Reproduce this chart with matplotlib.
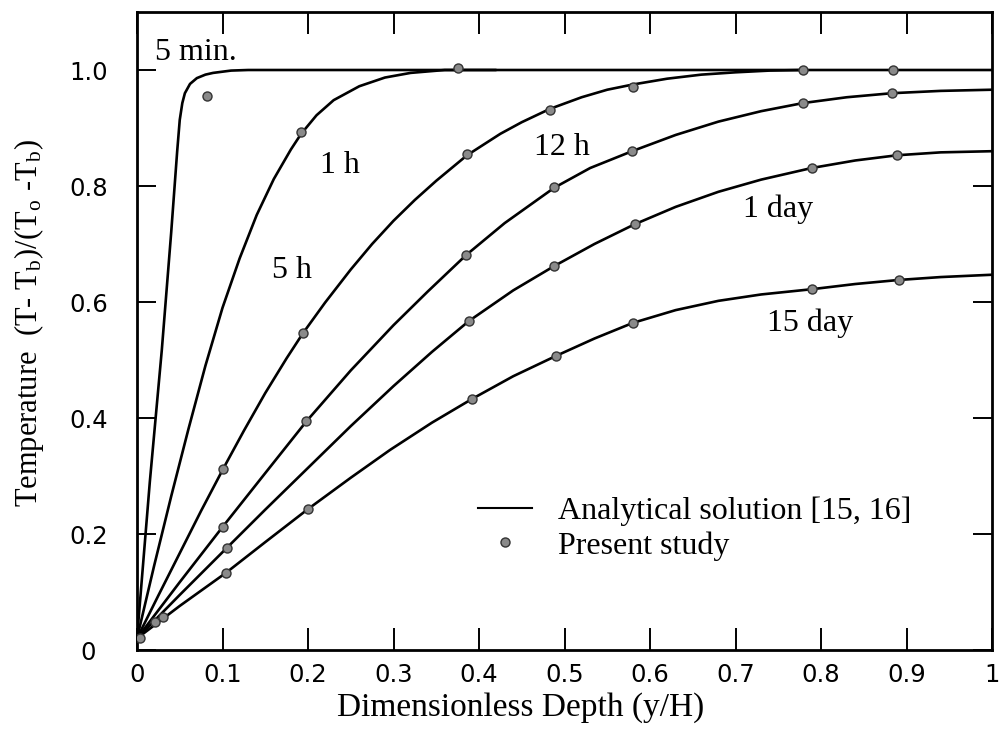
import matplotlib
matplotlib.use("Agg")
import matplotlib.pyplot as plt
from matplotlib.lines import Line2D

plt.rcParams['mathtext.fontset'] = 'stix'

# ---- analytical curves ----
x_5min = [0, 0.015, 0.029, 0.040, 0.047, 0.050, 0.053, 0.056, 0.062, 0.070, 0.080, 0.089, 0.11, 0.13, 1.0]
y_5min = [0.02, 0.29, 0.517, 0.72, 0.86, 0.914, 0.943, 0.96, 0.976, 0.986, 0.992, 0.995, 0.999, 1.0, 1.0]

x_1h = [0, 0.02, 0.04, 0.06, 0.08, 0.10, 0.12, 0.14, 0.16, 0.18, 0.192, 0.21, 0.23, 0.26, 0.29, 0.32, 0.36, 0.42]
y_1h = [0.02, 0.145, 0.265, 0.38, 0.49, 0.59, 0.675, 0.75, 0.812, 0.863, 0.89, 0.922, 0.948, 0.972, 0.987, 0.995, 1.0, 1.0]

x_5h = [0, 0.025, 0.05, 0.075, 0.101, 0.125, 0.15, 0.175, 0.194, 0.22, 0.25, 0.275, 0.30, 0.325, 0.35,
        0.386, 0.425, 0.45, 0.483, 0.52, 0.55, 0.58, 0.62, 0.66, 0.70, 0.74, 0.78]
y_5h = [0.02, 0.094, 0.167, 0.24, 0.313, 0.378, 0.443, 0.503, 0.546, 0.599, 0.656, 0.700, 0.740, 0.776, 0.809,
        0.853, 0.89, 0.91, 0.933, 0.953, 0.966, 0.975, 0.985, 0.992, 0.996, 0.999, 1.0]

x_12h = [0, 0.05, 0.10, 0.15, 0.198, 0.25, 0.30, 0.34, 0.385, 0.43, 0.488, 0.53, 0.579, 0.63, 0.68, 0.73,
         0.779, 0.83, 0.883, 0.94, 1.0]
y_12h = [0.02, 0.117, 0.212, 0.305, 0.394, 0.482, 0.56, 0.618, 0.681, 0.736, 0.797, 0.831, 0.86, 0.888, 0.911,
         0.929, 0.943, 0.953, 0.96, 0.964, 0.966]

x_1day = [0, 0.05, 0.105, 0.15, 0.20, 0.25, 0.30, 0.345, 0.388, 0.44, 0.488, 0.535, 0.582, 0.63, 0.68, 0.73,
          0.789, 0.84, 0.889, 0.94, 1.0]
y_1day = [0.02, 0.095, 0.176, 0.242, 0.314, 0.386, 0.455, 0.514, 0.567, 0.62, 0.662, 0.70, 0.734, 0.764, 0.79,
          0.811, 0.831, 0.844, 0.853, 0.858, 0.86]

x_15day = [0, 0.05, 0.104, 0.15, 0.20, 0.25, 0.296, 0.345, 0.392, 0.44, 0.49, 0.535, 0.58, 0.63, 0.68, 0.73,
           0.789, 0.84, 0.891, 0.94, 1.0]
y_15day = [0.02, 0.076, 0.133, 0.186, 0.243, 0.297, 0.345, 0.392, 0.433, 0.472, 0.507, 0.537, 0.564, 0.586,
           0.602, 0.613, 0.622, 0.631, 0.638, 0.643, 0.647]

# ---- present study points ----
px_5min = [0.082]
py_5min = [0.955]
px_1h = [0.192, 0.375]
py_1h = [0.893, 1.003]
px_5h = [0.004, 0.101, 0.194, 0.386, 0.483, 0.58, 0.779, 0.884]
py_5h = [0.02, 0.312, 0.546, 0.855, 0.931, 0.97, 1.0, 1.0]
px_12h = [0.021, 0.10, 0.198, 0.385, 0.488, 0.579, 0.779, 0.883]
py_12h = [0.048, 0.212, 0.394, 0.681, 0.798, 0.86, 0.943, 0.96]
px_1day = [0.03, 0.105, 0.388, 0.488, 0.582, 0.789, 0.889]
py_1day = [0.057, 0.176, 0.567, 0.662, 0.734, 0.831, 0.853]
px_15day = [0.104, 0.20, 0.392, 0.49, 0.58, 0.789, 0.891]
py_15day = [0.133, 0.243, 0.433, 0.507, 0.564, 0.622, 0.638]

curve_labels = ["5 min.", "1 h", "5 h", "12 h", "1 day", "15 day"]
label_x = [0.069, 0.237, 0.181, 0.497, 0.75, 0.787]
label_y = [1.031, 0.836, 0.655, 0.867, 0.76, 0.564]

xticks = [0, 0.1, 0.2, 0.3, 0.4, 0.5, 0.6, 0.7, 0.8, 0.9, 1.0]
xticklabels = ["0", "0.1", "0.2", "0.3", "0.4", "0.5", "0.6", "0.7", "0.8", "0.9", "1"]
yticks = [0, 0.2, 0.4, 0.6, 0.8, 1.0]
yticklabels = ["0", "0.2", "0.4", "0.6", "0.8", "1.0"]

fig = plt.figure(figsize=(9.99, 7.32), dpi=100)
ax = fig.add_axes([137/999, 1 - 650/732, 855/999, 638/732])

lw = 1.9
for xs, ys in [(x_5min, y_5min), (x_1h, y_1h), (x_5h, y_5h),
               (x_12h, y_12h), (x_1day, y_1day), (x_15day, y_15day)]:
    ax.plot(xs, ys, color='black', lw=lw, solid_joinstyle='round', solid_capstyle='round', zorder=2)

mk = dict(linestyle='none', marker='o', markersize=6.5, markerfacecolor='#8a8a8a',
          markeredgecolor='#333333', markeredgewidth=1.0, zorder=3)
for xs, ys in [(px_5min, py_5min), (px_1h, py_1h), (px_5h, py_5h),
               (px_12h, py_12h), (px_1day, py_1day), (px_15day, py_15day)]:
    ax.plot(xs, ys, **mk)

serif = 'Liberation Serif'
for t, lx, ly in zip(curve_labels, label_x, label_y):
    ax.text(lx, ly, t, fontsize=23, family=serif, ha='center', va='center')

ax.set_xlim(0, 1.0)
ax.set_ylim(0, 1.1)

ax.set_xticks(xticks)
ax.set_xticklabels(xticklabels, family='DejaVu Sans', fontsize=17.5)
ax.set_yticks(yticks)
ax.set_yticklabels(yticklabels, family='DejaVu Sans', fontsize=17.5, ha='center')

ax.tick_params(axis='x', direction='in', length=16, width=1.4, top=True, pad=9)
ax.tick_params(axis='y', direction='in', length=14, width=1.4, right=True, pad=35)
for s in ax.spines.values():
    s.set_linewidth(2.0)

ax.set_xlabel("Dimensionless Depth (y/H)", family=serif, fontsize=24)
ax.xaxis.set_label_coords(0.449, -0.066)
ax.set_ylabel(r"Temperature  (T- T$_\mathregular{b}$)/(T$_\mathregular{o}$ -T$_\mathregular{b}$)",
              family=serif, fontsize=22)
ax.yaxis.set_label_coords(-0.106, 0.513)

handles = [Line2D([], [], color='black', lw=1.5),
           Line2D([], [], **{k: v for k, v in mk.items() if k != 'zorder'})]
ax.legend(handles, ["Analytical solution [15, 16]", "Present study"],
          loc='upper left', bbox_to_anchor=(0.399, 0.24), frameon=False,
          prop={'family': serif, 'size': 23}, handlelength=1.7,
          handletextpad=0.8, labelspacing=0.15, borderaxespad=0, borderpad=0)

fig.savefig("out.png", dpi=100)
